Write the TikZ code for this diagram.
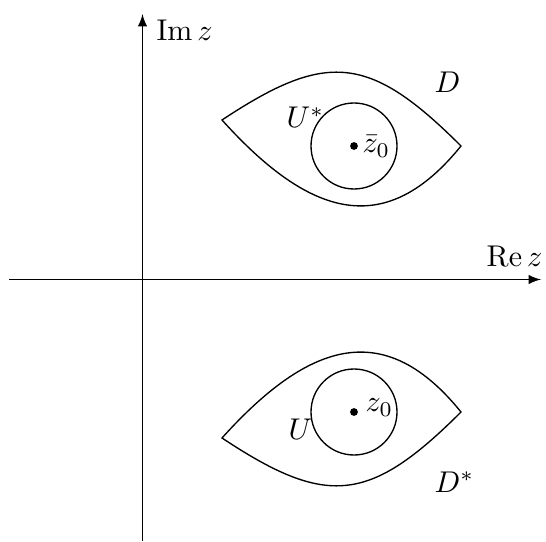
\documentclass[tikz,border=0pt]{standalone}
\usetikzlibrary{arrows}
\begin{document}
\begin{tikzpicture}[x=0.3333pt,y=-0.3333pt,
  axis/.style={line width=0.45pt,-latex},
  curve/.style={line width=0.45pt},
  lab/.style={inner sep=0pt}]
\useasboundingbox (0,0) rectangle (546,542);
% axes
\coordinate (xs) at (9,279.5);
\coordinate (xe) at (541,279.5);
\coordinate (ys) at (142.5,541);
\coordinate (ye) at (142.5,14);
\draw[axis] (xs) -- (xe);
\draw[axis] (ys) -- (ye);
\node[lab,anchor=base west] (imz) at (156,41) {$\mathop{\mathrm{Im}}z$};
\node[lab,anchor=base east] (rez) at (543,267) {$\mathop{\mathrm{Re}}z$};
% upper eye D
\coordinate (dl) at (222,120);
\coordinate (dr) at (461,146);
\draw[curve] (dl) .. controls (326.2,51.0) and (369.1,54.1) .. (dr)
  .. controls (386.8,237.7) and (312.3,220.3) .. (dl) -- cycle;
\coordinate (zb) at (354,146);
\draw[curve] (zb) circle (43);
\fill (zb) circle (1.3pt);
\node[lab,anchor=base west] (zblab) at (362,153) {$\bar z_0$};
\node[lab,anchor=base west] (ustar) at (286,128) {$U^*$};
\node[lab,anchor=base west] (dlab) at (434,93) {$D$};
% lower eye D*
\coordinate (el) at (222,438);
\coordinate (er) at (461,412);
\draw[curve] (el) .. controls (326.2,507.0) and (369.1,503.9) .. (er)
  .. controls (386.8,320.3) and (312.3,337.7) .. (el) -- cycle;
\coordinate (z) at (354,412);
\draw[curve] (z) circle (43);
\fill (z) circle (1.3pt);
\node[lab,anchor=base west] (zlab) at (365,412) {$z_0$};
\node[lab,anchor=base west] (ulab) at (288,439) {$U$};
\node[lab,anchor=base west] (dslab) at (434,492) {$D^*$};
\end{tikzpicture}
\end{document}
